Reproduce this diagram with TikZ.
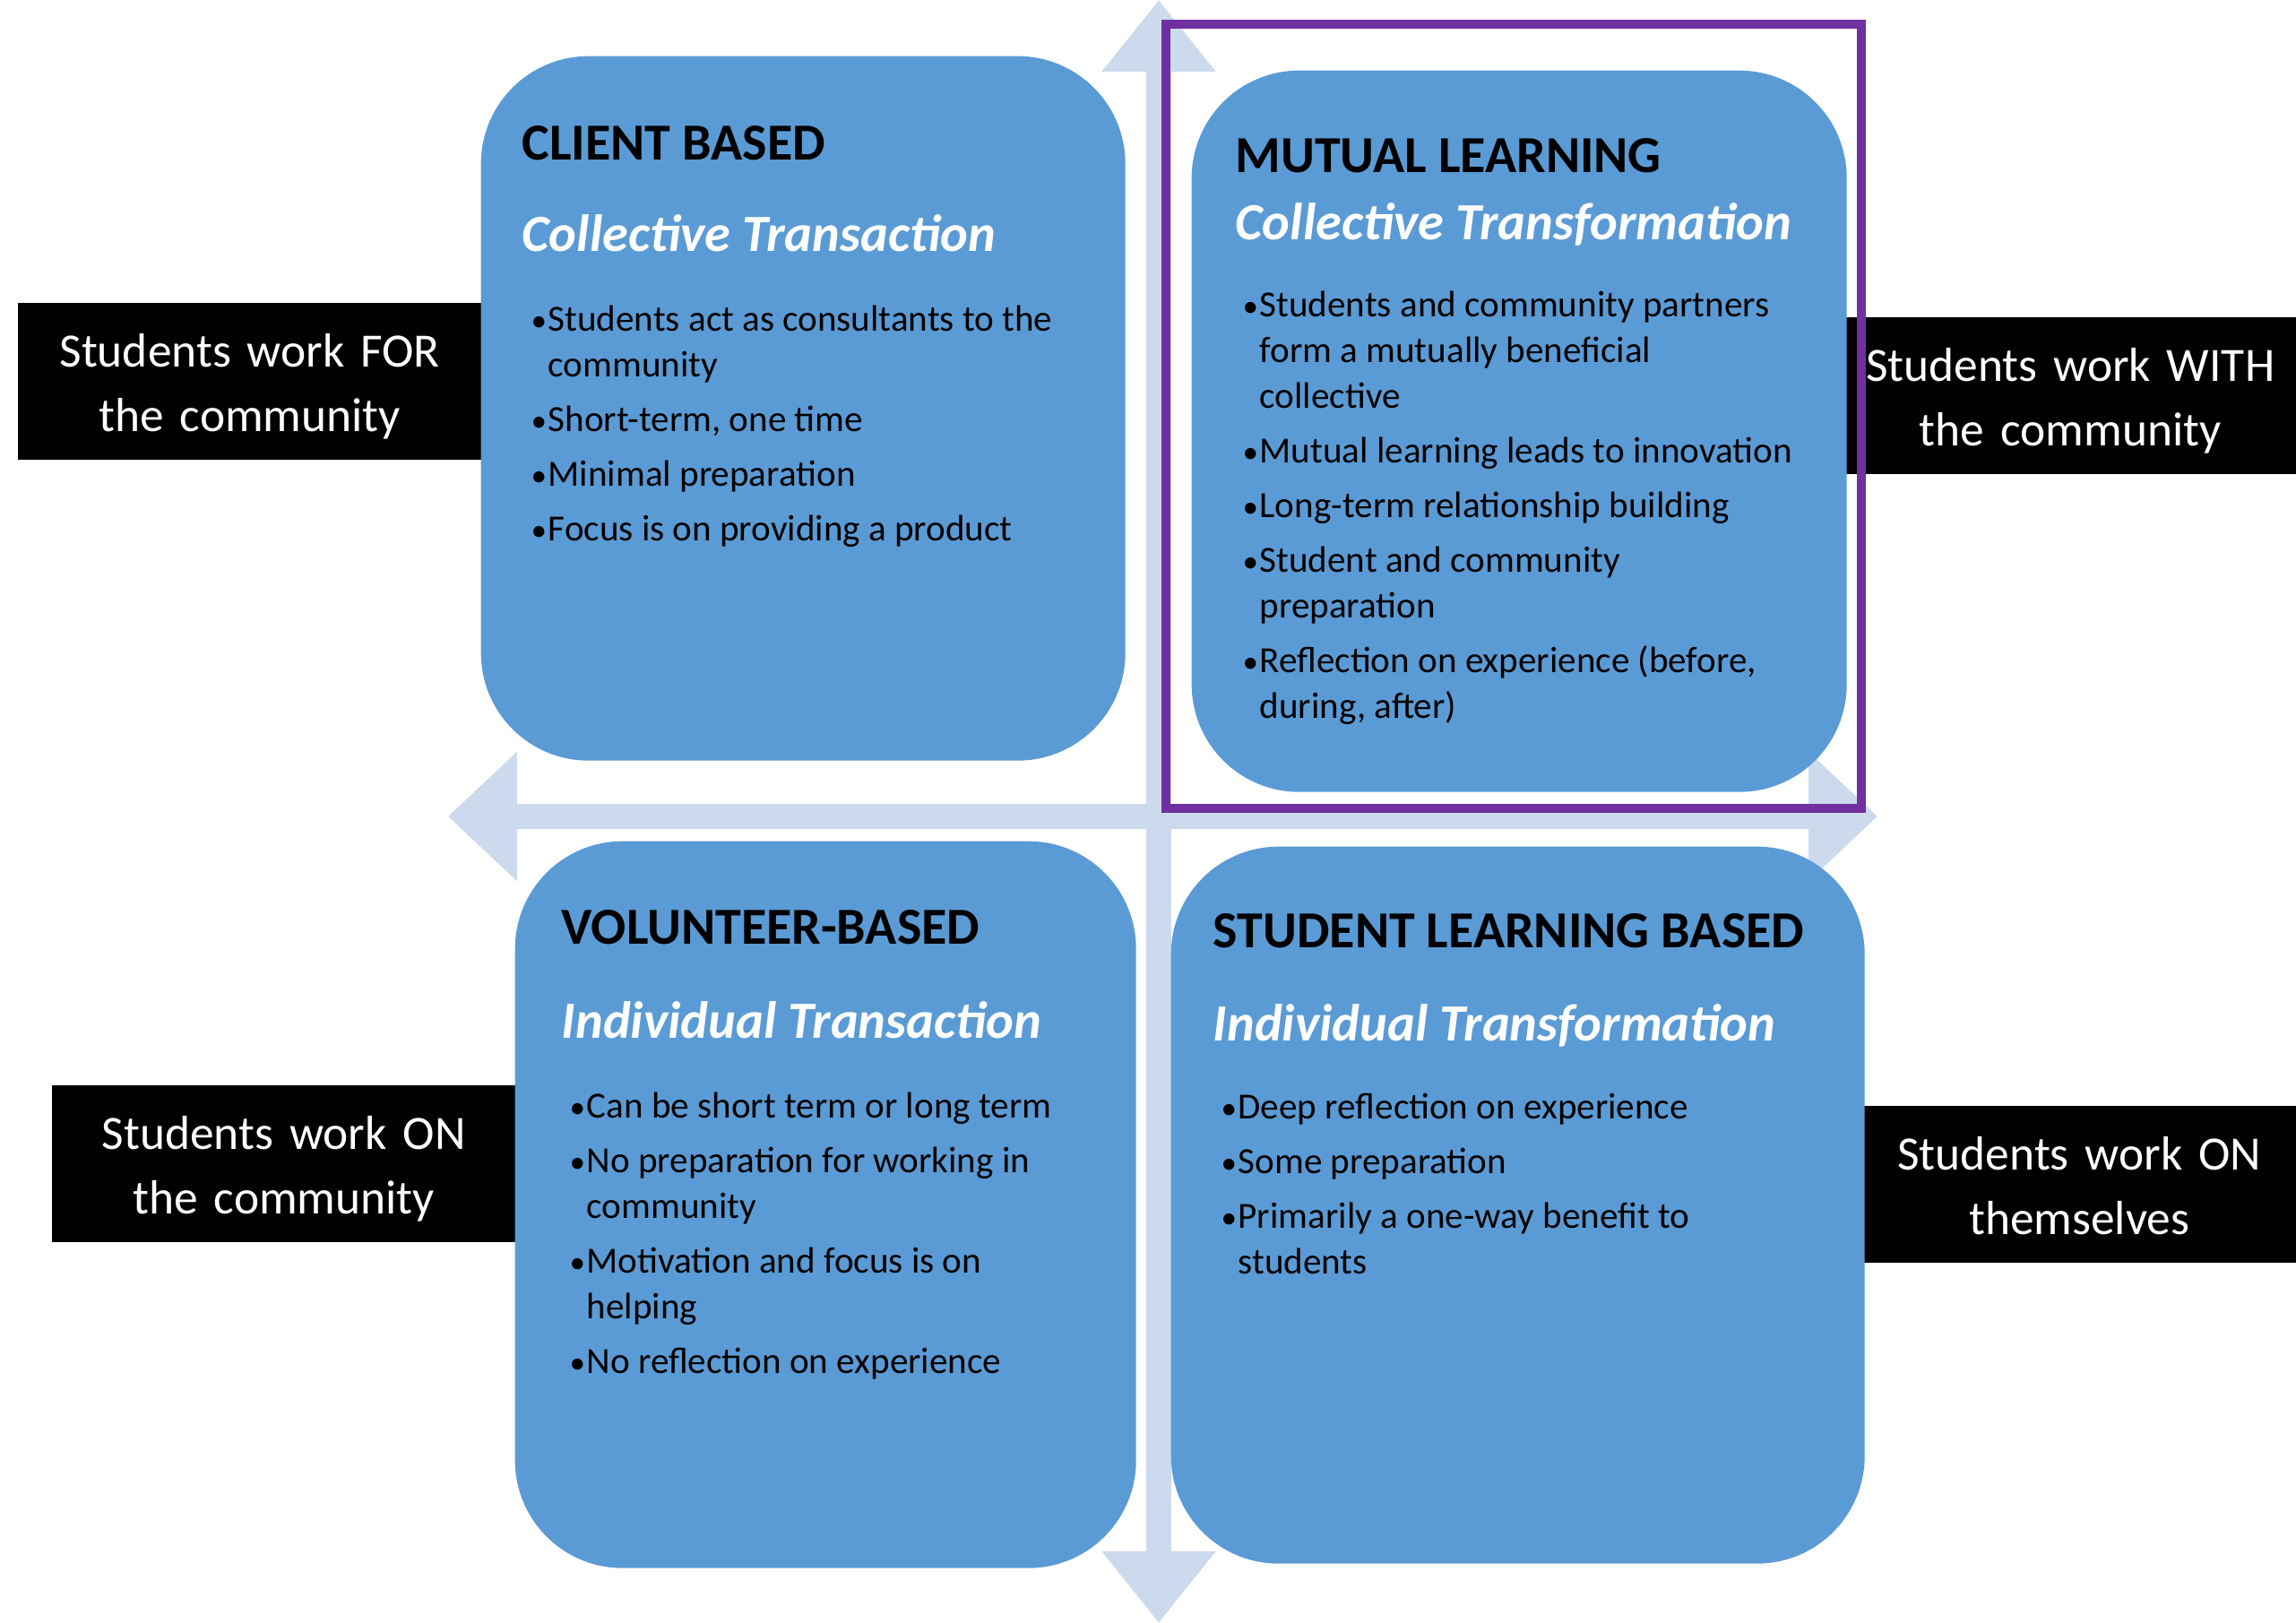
\documentclass[tikz,border=0pt]{standalone}
\usepackage{fontspec}
\setmainfont{Carlito}
\usetikzlibrary{arrows.meta}
\definecolor{quadblue}{RGB}{91,155,213}
\definecolor{axisblue}{RGB}{204,218,237}
\definecolor{framepurple}{RGB}{112,48,160}
\newlength{\itemgap}
\setlength{\itemgap}{2.85pt}
\newcommand{\bul}{\makebox[5.4pt][l]{\fontsize{10}{10}\selectfont\textbullet}}
\tikzset{
  quad/.style={fill=quadblue, rounded corners=1.2cm, anchor=north west, inner sep=0pt},
  sidelabel/.style={fill=black, text=white, anchor=north west, inner sep=0pt,
    align=center, text height=0.72cm, text depth=1.03cm,
    font=\fontsize{15.2}{20.5}\selectfont},
  quadtitle/.style={anchor=base west, inner sep=0pt,
    font=\fontsize{16.5}{20}\selectfont\bfseries},
  quadsub/.style={anchor=base west, inner sep=0pt, text=white,
    font=\fontsize{16.6}{20}\selectfont\bfseries\itshape},
  bullets/.style={anchor=base west, inner sep=0pt,
    font=\fontsize{11.7}{14.5}\selectfont},
  axis/.style={axisblue, line width=0.28cm}
}

\begin{document}
\begin{tikzpicture}
  \useasboundingbox (0,0) rectangle (25.62,-18.11);
  % axes
  \coordinate (vtop) at (12.93,0);
  \coordinate (vbot) at (12.93,-18.11);
  \coordinate (hleft) at (5.00,-9.11);
  \coordinate (hright) at (20.95,-9.11);
  \draw[axis, {Triangle[width=1.22cm,length=0.8cm]}-{Triangle[width=1.22cm,length=0.8cm]}] (vbot) -- (vtop);
  \draw[axis, {Triangle[width=1.4cm,length=0.77cm]}-{Triangle[width=1.4cm,length=0.77cm]}] (hleft) -- (hright);
  % side labels
  \node[sidelabel, text width=5.18cm] (forlab) at (0.19,-3.37) {Students work FOR\\the community};
  \node[sidelabel, text width=5.05cm] (withlab) at (20.57,-3.53) {Students work WITH\\the community};
  \node[sidelabel, text width=5.18cm] (onlab) at (0.57,-12.10) {Students work ON\\the community};
  \node[sidelabel, text width=4.85cm] (selflab) at (20.77,-12.33) {Students work ON\\themselves};
  % quadrants
  \node[quad, minimum width=7.19cm, minimum height=7.86cm] (client) at (5.36,-0.62) {};
  \node[quad, minimum width=7.31cm, minimum height=8.05cm] (mutual) at (13.29,-0.78) {};
  \node[quad, minimum width=6.93cm, minimum height=8.11cm] (volunteer) at (5.74,-9.38) {};
  \node[quad, minimum width=7.74cm, minimum height=8.00cm] (studlearn) at (13.06,-9.44) {};
  \node[quadtitle] (clienttitle) at (5.82,-1.79) {CLIENT BASED};
  \node[quadsub] (clientsub) at (5.82,-2.81) {Collective Transaction};
  \node[bullets] (clientlist) at (5.92,-3.70) {\begin{tabular}[t]{@{}l@{}l@{}}
    \bul & Students act as consultants to the\\ & community\\[\itemgap]
    \bul & Short-term, one time\\[\itemgap]
    \bul & Minimal preparation\\[\itemgap]
    \bul & Focus is on providing a product
  \end{tabular}};
  \node[quadtitle] (mutualtitle) at (13.78,-1.93) {MUTUAL LEARNING};
  \node[quadsub] (mutualsub) at (13.78,-2.68) {Collective Transformation};
  \node[bullets] (mutuallist) at (13.86,-3.54) {\begin{tabular}[t]{@{}l@{}l@{}}
    \bul & Students and community partners\\ & form a mutually beneficial\\ & collective\\[\itemgap]
    \bul & Mutual learning leads to innovation\\[\itemgap]
    \bul & Long-term relationship building\\[\itemgap]
    \bul & Student and community\\ & preparation\\[\itemgap]
    \bul & Reflection on experience (before,\\ & during, after)
  \end{tabular}};
  \node[quadtitle] (voltitle) at (6.26,-10.54) {VOLUNTEER-BASED};
  \node[quadsub] (volsub) at (6.26,-11.59) {Individual Transaction};
  \node[bullets] (vollist) at (6.35,-12.475) {\begin{tabular}[t]{@{}l@{}l@{}}
    \bul & Can be short term or long term\\[\itemgap]
    \bul & No preparation for working in\\ & community\\[\itemgap]
    \bul & Motivation and focus is on\\ & helping\\[\itemgap]
    \bul & No reflection on experience
  \end{tabular}};
  \node[quadtitle] (studtitle) at (13.53,-10.58) {STUDENT LEARNING BASED};
  \node[quadsub] (studsub) at (13.53,-11.615) {Individual Transformation};
  \node[bullets] (studlist) at (13.62,-12.486) {\begin{tabular}[t]{@{}l@{}l@{}}
    \bul & Deep reflection on experience\\[\itemgap]
    \bul & Some preparation\\[\itemgap]
    \bul & Primarily a one-way benefit to\\ & students
  \end{tabular}};
  % highlight
  \draw[framepurple, line width=2.7pt] (13.01,-0.27) rectangle (20.77,-9.02);
\end{tikzpicture}
\end{document}
